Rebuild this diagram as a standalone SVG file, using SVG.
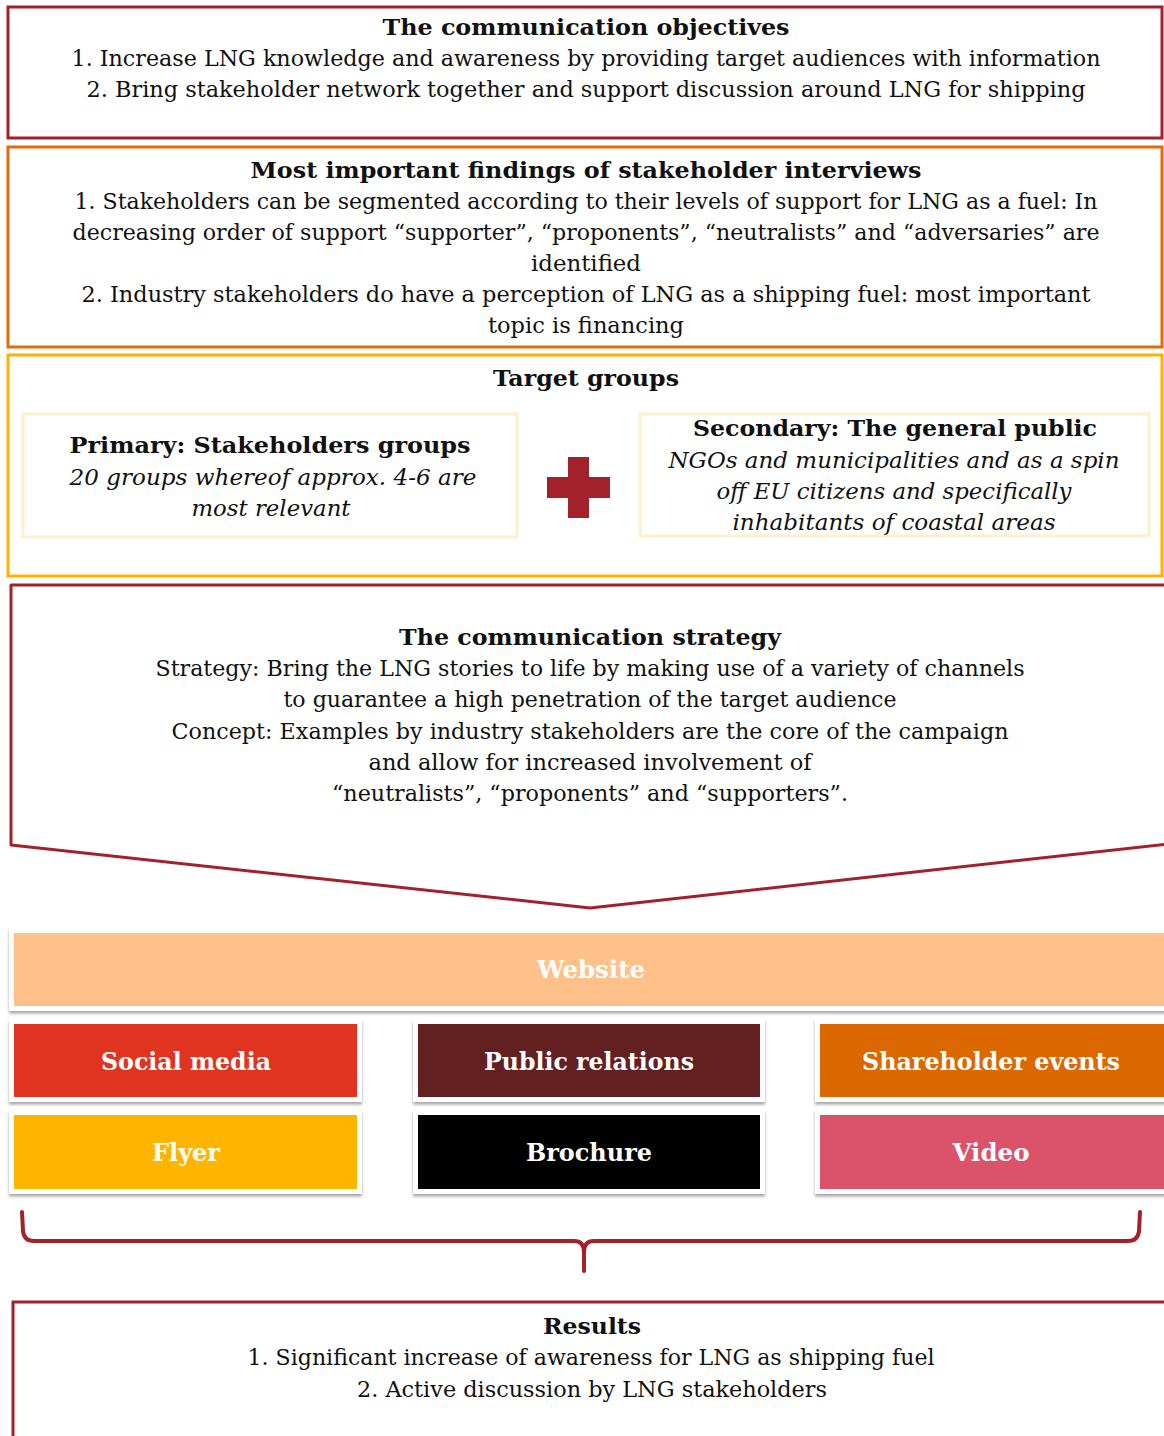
<svg xmlns="http://www.w3.org/2000/svg" width="1164" height="1436" viewBox="0 0 1164 1436">
<defs>
<filter id="sh" x="-5%" y="-20%" width="110%" height="150%">
<feDropShadow dx="0" dy="2.5" stdDeviation="1.5" flood-color="#000" flood-opacity="0.35"/>
</filter>
<style>
text{font-family:"DejaVu Serif","Liberation Serif",serif;font-size:22px;fill:#111;text-anchor:middle}
.b{font-weight:bold}
.i{font-style:italic}
.ch{font-weight:bold;font-size:24px;fill:#fff}
.red{fill:#fff;stroke:#A3212A;stroke-width:3}
.org{fill:#fff;stroke:#E36C0A;stroke-width:3}
.yel{fill:#fff;stroke:#FFB300;stroke-width:3}
.pale{fill:#fff;stroke:#FFF0CC;stroke-width:3}
.outer{fill:#fff;filter:url(#sh)}
</style>
</defs>
<rect width="1164" height="1436" fill="#fff"/>

<g id="objectives">
<rect class="red" x="8" y="7" width="1154" height="131"/>
<text class="b" x="586" y="35" textLength="407" lengthAdjust="spacingAndGlyphs">The communication objectives</text>
<text x="586" y="66" textLength="1029" lengthAdjust="spacingAndGlyphs">1. Increase LNG knowledge and awareness by providing target audiences with information</text>
<text x="586" y="97" textLength="999" lengthAdjust="spacingAndGlyphs">2. Bring stakeholder network together and support discussion around LNG for shipping</text>
</g>

<g id="findings">
<rect class="org" x="8" y="147" width="1154" height="200"/>
<text class="b" x="586" y="178" textLength="671" lengthAdjust="spacingAndGlyphs">Most important findings of stakeholder interviews</text>
<text x="586" y="209" textLength="1023" lengthAdjust="spacingAndGlyphs">1. Stakeholders can be segmented according to their levels of support for LNG as a fuel: In</text>
<text x="586" y="240" textLength="1027" lengthAdjust="spacingAndGlyphs">decreasing order of support “supporter”, “proponents”, “neutralists” and “adversaries” are</text>
<text x="586" y="271" textLength="110" lengthAdjust="spacingAndGlyphs">identified</text>
<text x="586" y="302" textLength="1009" lengthAdjust="spacingAndGlyphs">2. Industry stakeholders do have a perception of LNG as a shipping fuel: most important</text>
<text x="586" y="333" textLength="196" lengthAdjust="spacingAndGlyphs">topic is financing</text>
</g>

<g id="target-groups">
<rect class="yel" x="8" y="355" width="1154" height="221"/>
<text class="b" x="586" y="386" textLength="186" lengthAdjust="spacingAndGlyphs">Target groups</text>
</g>

<g id="primary">
<rect class="pale" x="23" y="414" width="494" height="123"/>
<text class="b" x="270" y="453" textLength="401" lengthAdjust="spacingAndGlyphs">Primary: Stakeholders groups</text>
<text class="i" x="273" y="485" textLength="407" lengthAdjust="spacingAndGlyphs">20 groups whereof approx. 4-6 are</text>
<text class="i" x="271" y="516" textLength="159" lengthAdjust="spacingAndGlyphs">most relevant</text>
</g>

<g id="plus">
<rect x="568" y="457" width="21" height="61" fill="#A3212A"/>
<rect x="547" y="477" width="63" height="21" fill="#A3212A"/>
</g>

<g id="secondary">
<rect class="pale" x="640" y="414" width="509" height="122"/>
<text class="b" x="895" y="436" textLength="404" lengthAdjust="spacingAndGlyphs">Secondary: The general public</text>
<text class="i" x="894" y="468" textLength="451" lengthAdjust="spacingAndGlyphs">NGOs and municipalities and as a spin</text>
<text class="i" x="894" y="499" textLength="355" lengthAdjust="spacingAndGlyphs">off EU citizens and specifically</text>
<text class="i" x="894" y="530" textLength="323" lengthAdjust="spacingAndGlyphs">inhabitants of coastal areas</text>
</g>

<g id="strategy">
<path d="M11,585 L1168,585 L1168,844 L590,908 L11,845 Z" fill="#fff" stroke="#A3212A" stroke-width="3" stroke-linejoin="round"/>
<text class="b" x="590" y="645" textLength="382" lengthAdjust="spacingAndGlyphs">The communication strategy</text>
<text x="590" y="676" textLength="869" lengthAdjust="spacingAndGlyphs">Strategy: Bring the LNG stories to life by making use of a variety of channels</text>
<text x="590" y="707" textLength="613" lengthAdjust="spacingAndGlyphs">to guarantee a high penetration of the target audience</text>
<text x="590" y="739" textLength="837" lengthAdjust="spacingAndGlyphs">Concept: Examples by industry stakeholders are the core of the campaign</text>
<text x="590" y="770" textLength="443" lengthAdjust="spacingAndGlyphs">and allow for increased involvement of</text>
<text x="590" y="801" textLength="516" lengthAdjust="spacingAndGlyphs">“neutralists”, “proponents” and “supporters”.</text>
</g>

<g id="website">
<rect class="outer" x="9" y="928" width="1165" height="83"/>
<rect x="14" y="933" width="1155" height="73" fill="#FFC18A"/>
<text class="ch" x="591" y="978" textLength="108" lengthAdjust="spacingAndGlyphs">Website</text>
</g>

<g id="social-media">
<rect class="outer" x="9" y="1019" width="353" height="83"/>
<rect x="14" y="1024" width="343" height="73" fill="#E03420"/>
<text class="ch" x="186" y="1070" textLength="170" lengthAdjust="spacingAndGlyphs">Social media</text>
</g>

<g id="public-relations">
<rect class="outer" x="413" y="1019" width="352" height="83"/>
<rect x="418" y="1024" width="342" height="73" fill="#622020"/>
<text class="ch" x="589" y="1070" textLength="210" lengthAdjust="spacingAndGlyphs">Public relations</text>
</g>

<g id="shareholder-events">
<rect class="outer" x="815" y="1019" width="360" height="83"/>
<rect x="820" y="1024" width="350" height="73" fill="#DB6800"/>
<text class="ch" x="991" y="1070" textLength="258" lengthAdjust="spacingAndGlyphs">Shareholder events</text>
</g>

<g id="flyer">
<rect class="outer" x="9" y="1110" width="353" height="84"/>
<rect x="14" y="1115" width="343" height="74" fill="#FFB400"/>
<text class="ch" x="186" y="1161" textLength="68" lengthAdjust="spacingAndGlyphs">Flyer</text>
</g>

<g id="brochure">
<rect class="outer" x="413" y="1110" width="352" height="84"/>
<rect x="418" y="1115" width="342" height="74" fill="#000"/>
<text class="ch" x="589" y="1161" textLength="126" lengthAdjust="spacingAndGlyphs">Brochure</text>
</g>

<g id="video">
<rect class="outer" x="815" y="1110" width="360" height="84"/>
<rect x="820" y="1115" width="350" height="74" fill="#DB536A"/>
<text class="ch" x="991" y="1161" textLength="77" lengthAdjust="spacingAndGlyphs">Video</text>
</g>

<g id="connectors">
<path d="M22,1212 L23,1231 Q24,1241 34,1241 L574,1241 Q584,1241 584,1252 L584,1271 M584,1252 Q584,1241 594,1241 L1128,1241 Q1138,1241 1139,1231 L1140,1212" fill="none" stroke="#A3212A" stroke-width="4" stroke-linecap="round" stroke-linejoin="round"/>
</g>

<g id="results">
<rect class="red" x="13" y="1302" width="1170" height="160"/>
<text class="b" x="592" y="1334" textLength="98" lengthAdjust="spacingAndGlyphs">Results</text>
<text x="591" y="1365" textLength="687" lengthAdjust="spacingAndGlyphs">1. Significant increase of awareness for LNG as shipping fuel</text>
<text x="592" y="1397" textLength="470" lengthAdjust="spacingAndGlyphs">2. Active discussion by LNG stakeholders</text>
</g>
</svg>
